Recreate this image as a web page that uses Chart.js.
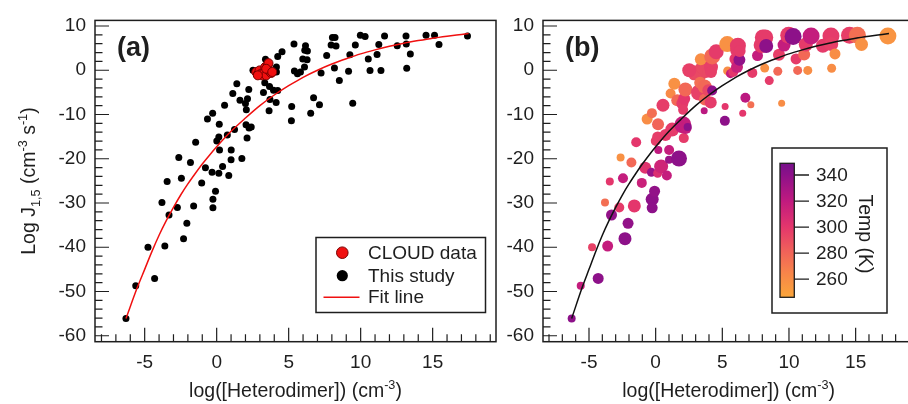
<!DOCTYPE html>
<html><head><meta charset="utf-8">
<script src="https://cdn.jsdelivr.net/npm/chart.js@4.4.0/dist/chart.umd.min.js"></script>
<style>
html,body{margin:0;padding:0;background:#fff;overflow:hidden;width:908px;height:404px;}
#wa{position:absolute;left:0;top:0;width:520px;height:404px;}
#wb{position:absolute;left:500px;top:0;width:430px;height:404px;}
canvas{display:block;}
</style></head><body>
<div id="wa"><canvas id="ca" width="520" height="404"></canvas></div>
<div id="wb"><canvas id="cb" width="430" height="404"></canvas></div>
<script>
// ---------------- data ----------------
const heteroX = [-6.30,-5.62,-4.77,-4.31,-3.80,-3.60,-3.44,-3.31,-2.73,-2.63,
 -2.45,-2.30,-2.07,-1.82,-1.60,-1.46,-1.04,-0.78,-0.64,-0.32,
 -0.28,-0.26,-0.26,-0.08,0.01,0.15,0.15,0.20,0.18,0.41,
 0.55,0.84,0.74,1.00,1.01,1.12,1.24,1.40,1.62,1.75,
 2.00,2.04,2.06,2.11,2.14,2.23,2.25,2.40,2.52,3.25,
 3.34,3.39,3.67,3.70,3.64,3.95,4.13,4.15,4.15,4.24,
 4.24,4.54,5.21,5.19,5.37,5.40,5.61,5.82,5.98,6.10,
 6.12,6.17,6.28,6.30,6.53,6.73,7.14,7.25,7.64,7.95,
 8.04,8.22,8.18,8.29,8.52,9.16,9.25,9.45,9.63,9.98,
 10.31,10.53,10.65,11.14,11.26,11.41,11.66,12.54,13.15,13.17,
 13.20,13.45,14.54,15.13,15.44,17.42];
const logJ = [-56.13,-48.71,-40.01,-47.04,-29.89,-39.75,-25.14,-32.72,-31.03,-19.75,
 -24.41,-38.07,-34.60,-20.84,-30.67,-16.27,-25.46,-22.02,-11.03,-23.07,
 -9.70,-29.16,-31.10,-27.35,-16.01,-15.07,-23.27,-18.01,-12.22,-21.73,
 -7.91,-23.81,-14.65,-20.24,-18.03,-5.24,-13.42,-3.08,-6.80,-19.95,
 -7.53,-12.35,-8.96,-15.34,-6.46,-4.35,-13.04,-12.82,0.00,-5.06,
 -2.85,2.50,-3.68,-6.64,-9.14,-4.50,-7.29,0.71,-0.40,-4.57,
 3.12,4.19,-8.20,-11.44,5.91,-0.16,-0.78,-0.40,2.56,0.71,
 4.50,5.53,2.34,4.35,-9.70,-6.24,-7.80,-0.60,3.30,5.68,
 7.40,7.40,0.49,5.46,-2.34,-0.22,3.52,-7.47,5.68,7.91,
 7.62,2.56,-0.04,3.57,5.80,-0.04,7.76,5.53,7.76,5.91,
 0.45,3.68,7.91,7.91,5.84,7.76];
const tempK = [340,318,295,340,275,318,300,338,298,258,
 318,340,338,278,300,300,315,302,260,335,
 275,340,340,338,297,297,305,320,280,312,
 297,318,298,335,318,262,298,258,278,340,
 298,318,298,298,300,278,318,340,296,295,
 275,260,278,280,322,293,298,296,296,340,
 278,298,300,340,258,260,318,300,300,315,
 298,298,338,298,300,322,275,298,318,298,
 298,298,258,340,298,278,296,260,318,298,
 340,298,278,278,298,260,318,298,298,296,
 260,260,296,275,258,256];
const sizeVar = [4,4,4,5.5,4,5.5,4,5.5,5,4,
 5,6.5,5.5,5,6.5,5,5,6,5.5,4.5,
 5,6.5,5.5,5.5,5,5.5,4.5,4,6,7,
 6.5,5,6,4,5,5,7,6,6,8,
 6,8.5,5,5,6,7,6,4,7,8,
 6,6,7,6,3.5,6,6,7,6,5,
 8,7.5,3.5,5,8,4.5,4.5,5,6,6,
 7,8,6,6,3.5,5,3.5,5,5.5,8,
 8,8,4.5,7,4.5,4.5,6,3.5,6.5,8.5,
 8.5,5.5,4.5,6,7,4.5,8.5,7,8.5,7,
 4.5,5.5,8.5,8.5,6.5,8.5];
const cloudX = [2.75,2.86,2.98,3.09,3.16,3.27,3.37,3.44,3.55,3.62,3.79,3.60,3.44,3.86,2.86];
const cloudY = [-0.40,-0.94,-0.04,-0.78,-1.16,-0.62,0.71,-1.16,1.07,-0.04,-0.62,1.60,0.33,-0.40,-1.16];
const cloudTemp = 292;
const fitX = [-6.3,-5.5,-5,-4.5,-4,-3.5,-3,-2.5,-2,-1.5,-1,-0.5,0,1,2,3,4,5,6,7,8,9,10,11,12,13,14,15,16,17,17.5];
const fitY = [-56.1,-49.0,-45.0,-41.0,-37.3,-34.0,-31.0,-28.2,-25.7,-23.4,-21.2,-19.2,-17.3,-13.8,-10.8,-8.0,-5.6,-3.5,-1.6,0.0,1.4,2.6,3.7,4.6,5.4,6.1,6.7,7.25,7.7,8.1,8.3];
const xTicks = [-5,0,5,10,15];
const yTicks = [-60,-50,-40,-30,-20,-10,0,10];
const tempTicks = [260,280,300,320,340];
const seriesNames = ['CLOUD data','This study','Fit line'];
const panelLabels = ['(a)','(b)'];
const xTitle = [{t:'log([Heterodimer]) (cm'},{t:'-3',s:'sup'},{t:')'}];
const yTitle = [{t:'Log J'},{t:'1,5',s:'sub'},{t:' (cm'},{t:'-3',s:'sup'},{t:' s'},{t:'-1',s:'sup'},{t:')'}];
const colorbarTitle = 'Temp (K)';

// ---------------- styling helpers ----------------
const FAM = "'Liberation Sans', Arial, Helvetica, sans-serif";
const INK = '#1e1e1e';
const cmap = [[246,[251,166,58]],[265,[247,132,74]],[282,[240,96,90]],[300,[228,54,108]],[320,[192,26,127]],[340,[141,17,137]],[349,[118,16,138]]];
function tempColor(t){
  if (t<=cmap[0][0]) return 'rgb('+cmap[0][1].join(',')+')';
  for (let i=1;i<cmap.length;i++){
    if (t<=cmap[i][0]){
      const [t0,c0]=cmap[i-1],[t1,c1]=cmap[i]; const f=(t-t0)/(t1-t0);
      return 'rgb('+c0.map((c,k)=>Math.round(c+(c1[k]-c)*f)).join(',')+')';
    }
  }
  return 'rgb('+cmap[cmap.length-1][1].join(',')+')';
}
const XMIN=-8.45, XMAX=19.4, YMIN=-61.35, YMAX=11.26;

function drawRich(ctx, parts, x, y, size){
  const small = size*0.65;
  let w=0;
  parts.forEach(p=>{ctx.font=(p.s?small:size)+'px '+FAM; p.w=ctx.measureText(p.t).width; w+=p.w;});
  let cx=x-w/2;
  ctx.textAlign='left'; ctx.textBaseline='alphabetic';
  parts.forEach(p=>{
    ctx.font=(p.s?small:size)+'px '+FAM;
    const dy = p.s==='sub'?5:(p.s==='sup'?-8:0);
    ctx.fillText(p.t,cx,y+dy); cx+=p.w;
  });
}

function frameAndTicks(chart){
  const {ctx, chartArea:a, scales:{x,y}} = chart;
  ctx.save();
  ctx.strokeStyle=INK; ctx.lineWidth=1.5;
  ctx.strokeRect(a.left,a.top,a.right-a.left,a.bottom-a.top);
  ctx.lineWidth=1.2; ctx.beginPath();
  for (let v=Math.ceil(XMIN); v<=XMAX; v++){
    const px=x.getPixelForValue(v), L=xTicks.includes(v)?14:7.5;
    ctx.moveTo(px,a.bottom); ctx.lineTo(px,a.bottom-L);
  }
  for (let v=-60; v<=YMAX; v+=2){
    const py=y.getPixelForValue(v), L=yTicks.includes(v)?14:7.5;
    ctx.moveTo(a.left,py); ctx.lineTo(a.left+L,py);
  }
  ctx.stroke(); ctx.restore();
}

function titles(chart, idx){
  const {ctx, chartArea:a} = chart;
  ctx.save(); ctx.fillStyle=INK;
  drawRich(ctx, xTitle.map(p=>({...p})), (a.left+a.right)/2, 397, 19.5);
  ctx.font='bold 27px '+FAM; ctx.textAlign='left'; ctx.textBaseline='alphabetic';
  ctx.fillText(panelLabels[idx], a.left+22, 55.5);
  if (idx===0){
    ctx.save(); ctx.translate(35,(a.top+a.bottom)/2); ctx.rotate(-Math.PI/2);
    drawRich(ctx, yTitle.map(p=>({...p})), 0, 0, 19.5);
    ctx.restore();
  }
  ctx.restore();
}

function legendA(chart){
  const ctx=chart.ctx; ctx.save();
  ctx.fillStyle='#fff'; ctx.fillRect(316,237.5,169.5,75);
  ctx.strokeStyle=INK; ctx.lineWidth=1.5; ctx.strokeRect(316,237.5,169.5,75);
  ctx.beginPath(); ctx.arc(342.3,252.7,5.8,0,Math.PI*2); ctx.fillStyle='#f01010'; ctx.fill();
  ctx.lineWidth=1; ctx.strokeStyle='#7a0000'; ctx.stroke();
  ctx.beginPath(); ctx.arc(342.3,275.7,5.6,0,Math.PI*2); ctx.fillStyle='#000'; ctx.fill();
  ctx.beginPath(); ctx.moveTo(323.5,297.3); ctx.lineTo(359.5,297.3); ctx.strokeStyle='#f01010'; ctx.lineWidth=1.5; ctx.stroke();
  ctx.fillStyle=INK; ctx.font='19px '+FAM; ctx.textAlign='left'; ctx.textBaseline='middle';
  ctx.fillText(seriesNames[0],368,253.5);
  ctx.fillText(seriesNames[1],368,276.5);
  ctx.fillText(seriesNames[2],368,298);
  ctx.restore();
}

function colorbarB(chart){
  const ctx=chart.ctx, ox=-500; ctx.save();
  ctx.fillStyle='#fff'; ctx.fillRect(772+ox,148,115,165);
  ctx.strokeStyle=INK; ctx.lineWidth=1.5; ctx.strokeRect(772+ox,148,115,165);
  const top=163.3, bot=297.3, T0=246, T1=349;
  const g=ctx.createLinearGradient(0,bot,0,top);
  for (let t=T0;t<=T1;t+=1) g.addColorStop((t-T0)/(T1-T0), tempColor(t));
  ctx.fillStyle=g; ctx.fillRect(780+ox,top,14.3,bot-top);
  ctx.lineWidth=1.3; ctx.strokeRect(780+ox,top,14.3,bot-top);
  ctx.font='19px '+FAM; ctx.textAlign='left'; ctx.textBaseline='middle'; ctx.fillStyle=INK;
  ctx.beginPath();
  tempTicks.forEach(t=>{
    const py=bot-(t-T0)/(T1-T0)*(bot-top);
    ctx.moveTo(794.3+ox,py); ctx.lineTo(809+ox,py);
    ctx.fillText(String(t),816+ox,py+1);
  });
  ctx.stroke();
  ctx.save(); ctx.translate(864+ox,234); ctx.rotate(Math.PI/2);
  ctx.font='19.5px '+FAM; ctx.textAlign='center'; ctx.textBaseline='middle';
  ctx.fillText(colorbarTitle,0,0); ctx.restore();
  ctx.restore();
}

function scalesCfg(yWidth){
  return {
    x:{type:'linear',min:XMIN,max:XMAX,
       afterBuildTicks:s=>{s.ticks=xTicks.map(v=>({value:v}));},
       afterFit:s=>{s.height=62.3;},
       grid:{display:false,drawTicks:false}, border:{display:false},
       ticks:{color:INK,font:{size:19,family:FAM},padding:10,maxRotation:0,autoSkip:false,callback:v=>String(v)}},
    y:{type:'linear',min:YMIN,max:YMAX,
       afterBuildTicks:s=>{s.ticks=yTicks.map(v=>({value:v}));},
       afterFit:s=>{s.width=yWidth;},
       grid:{display:false,drawTicks:false}, border:{display:false},
       ticks:{color:INK,font:{size:19,family:FAM},padding:9,autoSkip:false,callback:v=>String(v)}}
  };
}
const pts = (xs,ys)=>xs.map((x,i)=>({x:x,y:ys[i]}));

Chart.defaults.font.family = FAM;

new Chart(document.getElementById('ca'),{
  type:'scatter',
  data:{datasets:[
    {label:seriesNames[2],data:pts(fitX,fitY),showLine:true,borderColor:'#f01010',borderWidth:1.5,pointRadius:0,cubicInterpolationMode:'monotone',fill:false,order:0},
    {label:seriesNames[0],data:pts(cloudX,cloudY),pointRadius:4.5,pointBackgroundColor:'#f01010',pointBorderColor:'#7a0000',pointBorderWidth:1,order:1},
    {label:seriesNames[1],data:pts(heteroX,logJ),pointRadius:3.5,pointBackgroundColor:'#000',pointBorderWidth:0,order:2}
  ]},
  options:{responsive:false,animation:false,devicePixelRatio:1,events:[],
    layout:{padding:{left:0,top:16,right:24,bottom:0}},
    plugins:{legend:{display:false},tooltip:{enabled:false}},
    scales:scalesCfg(95)},
  plugins:[{id:'decoA',beforeDatasetsDraw:c=>frameAndTicks(c),afterDraw:c=>{titles(c,0);legendA(c);}}]
});

new Chart(document.getElementById('cb'),{
  type:'scatter',
  data:{datasets:[
    {label:seriesNames[2],data:pts(fitX,fitY),showLine:true,borderColor:'#111',borderWidth:1.5,pointRadius:0,cubicInterpolationMode:'monotone',fill:false,order:0},
    {label:seriesNames[0],data:pts(cloudX,cloudY),pointRadius:5,pointBackgroundColor:tempColor(cloudTemp),pointBorderWidth:0,order:2},
    {label:seriesNames[1],data:pts(heteroX,logJ),pointRadius:sizeVar.slice(),pointBackgroundColor:tempK.map(tempColor),pointBorderWidth:0,order:1}
  ]},
  options:{responsive:false,animation:false,devicePixelRatio:1,events:[],
    layout:{padding:{left:0,top:16,right:15.7,bottom:0}},
    plugins:{legend:{display:false},tooltip:{enabled:false}},
    scales:scalesCfg(43)},
  plugins:[{id:'decoB',beforeDatasetsDraw:c=>frameAndTicks(c),afterDraw:c=>{titles(c,1);colorbarB(c);}}]
});
</script>
</body></html>
